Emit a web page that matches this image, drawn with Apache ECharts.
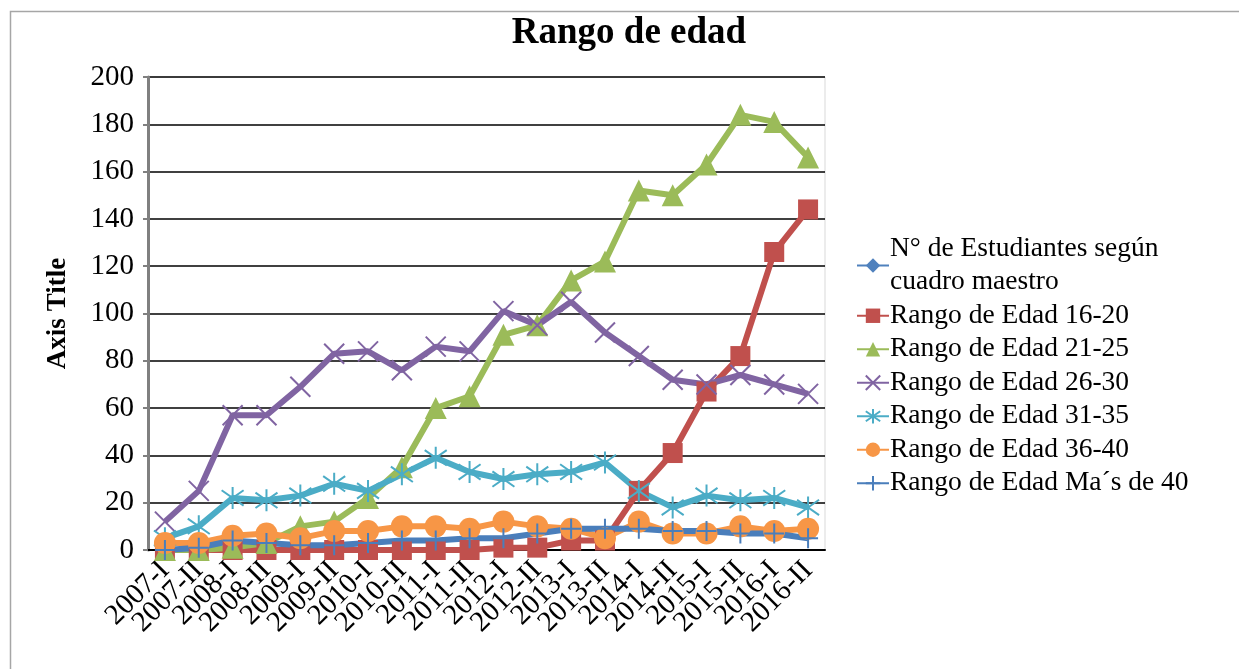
<!DOCTYPE html>
<html>
<head>
<meta charset="utf-8">
<script src="https://cdn.jsdelivr.net/npm/echarts@6/dist/echarts.min.js"></script>
<style>
  html, body { margin: 0; padding: 0; background: #fff; }
  #chart { width: 1239px; height: 669px; }
</style>
</head>
<body>
<div id="chart"></div>
<script>
// categories (semesters)
var semesters = ['2007-I', '2007-II', '2008-I', '2008-II', '2009-I', '2009-II', '2010-I', '2010-II',
  '2011-I', '2011-II', '2012-I', '2012-II', '2013-I', '2013-II', '2014-I', '2014-II',
  '2015-I', '2015-II', '2016-I', '2016-II'];

var yTicks = [0, 20, 40, 60, 80, 100, 120, 140, 160, 180, 200];

// values
var totalCuadro = [];
var edad16a20 = [0, 0, 0, 0, 0, 0, 0, 0, 0, 0, 1, 1, 4, 4, 25, 41, 67, 82, 126, 144];
var edad21a25 = [0, 0, 1, 3, 10, 12, 22, 35, 60, 65, 91, 95, 114, 122, 152, 150, 163, 184, 181, 166];
var edad26a30 = [12, 25, 57, 57, 69, 83, 84, 76, 86, 84, 101, 95, 105, 92, 82, 72, 70, 74, 70, 66];
var edad31a35 = [5, 10, 22, 21, 23, 28, 25, 32, 39, 33, 30, 32, 33, 37, 25, 18, 23, 21, 22, 18];
var edad36a40 = [3, 3, 6, 7, 5, 8, 8, 10, 10, 9, 12, 10, 9, 5, 12, 7, 7, 10, 8, 9];
var edadMas40 = [0, 1, 4, 3, 2, 2, 3, 4, 4, 5, 5, 7, 9, 9, 9, 8, 8, 7, 7, 5];

var seriesNames = ['N° de Estudiantes según cuadro maestro', 'Rango de Edad 16-20', 'Rango de Edad 21-25',
  'Rango de Edad 26-30', 'Rango de Edad 31-35', 'Rango de Edad 36-40', 'Rango de Edad Ma´s de 40'];

var FONT = '"Liberation Serif", "DejaVu Serif", serif';

var xMark = 'path://M0,0L10,10M10,0L0,10';
var starMark = 'path://M5,0L5,10M0.8,1.5L9.2,8.5M9.2,1.5L0.8,8.5';
var plusMark = 'path://M5,0L5,10M1.5,5L8.5,5';

function lineSeries(name, data, color, symbol, size, stroked) {
  return {
    name: name,
    type: 'line',
    data: data,
    symbol: symbol,
    symbolSize: size,
    showSymbol: true,
    lineStyle: { color: color, width: 6 },
    itemStyle: stroked
      ? { color: color, borderColor: color, borderWidth: 2 }
      : { color: color, borderWidth: 0 },
    emphasis: { disabled: true },
    animation: false
  };
}

var chart = echarts.init(document.getElementById('chart'));

chart.setOption({
  backgroundColor: '#fff',
  title: {
    text: 'Rango de edad',
    left: 624,
    textAlign: 'center',
    top: 10,
    textStyle: { fontFamily: FONT, fontSize: 37, fontWeight: 'bold', color: '#000' }
  },
  graphic: [{
    type: 'rect',
    shape: { x: 10.5, y: 11.5, width: 1300, height: 700 },
    style: { fill: 'none', stroke: '#a6a6a6', lineWidth: 1.5 },
    silent: true
  }],
  legend: {
    orient: 'vertical',
    left: 851,
    top: 227,
    itemWidth: 32,
    itemHeight: 18,
    itemGap: 0,
    data: seriesNames,
    formatter: function (name) {
      return name === seriesNames[0] ? 'N° de Estudiantes según\ncuadro maestro' : name;
    },
    textStyle: { fontFamily: FONT, fontSize: 27.5, color: '#000', lineHeight: 33.5, padding: [0, 0, 0, -4] }
  },
  grid: {
    left: 148,
    right: 414,
    top: 77,
    bottom: 119,
    show: true,
    borderColor: '#d9d9d9',
    borderWidth: 1
  },
  xAxis: {
    type: 'category',
    data: semesters,
    boundaryGap: true,
    axisLine: { lineStyle: { color: '#000', width: 2 } },
    axisTick: { show: false },
    axisLabel: {
      rotate: 45,
      interval: 0,
      margin: 16,
      fontFamily: FONT,
      fontSize: 29,
      color: '#000'
    }
  },
  yAxis: {
    type: 'value',
    min: 0,
    max: yTicks[yTicks.length - 1],
    interval: yTicks[1] - yTicks[0],
    name: 'Axis Title',
    nameLocation: 'middle',
    nameGap: 76,
    nameTextStyle: { fontFamily: FONT, fontSize: 27, fontWeight: 'bold', color: '#000' },
    axisLine: { show: true, lineStyle: { color: '#808080', width: 3 } },
    axisTick: { show: true, length: 5, lineStyle: { color: '#808080', width: 2 } },
    axisLabel: { fontFamily: FONT, fontSize: 29, color: '#000', margin: 14 },
    splitLine: { lineStyle: { color: '#000', width: 1.5 } }
  },
  series: [
    lineSeries(seriesNames[0], totalCuadro, '#4F81BD', 'diamond', 16, false),
    lineSeries(seriesNames[1], edad16a20, '#C0504D', 'rect', 20, false),
    lineSeries(seriesNames[2], edad21a25, '#9BBB59', 'triangle', 22, false),
    lineSeries(seriesNames[3], edad26a30, '#8064A2', xMark, 20, true),
    lineSeries(seriesNames[4], edad31a35, '#4BACC6', starMark, 22, true),
    lineSeries(seriesNames[5], edad36a40, '#F79646', 'circle', 22, false),
    lineSeries(seriesNames[6], edadMas40, '#4A7EBB', plusMark, 20, true)
  ]
});
</script>
</body>
</html>
